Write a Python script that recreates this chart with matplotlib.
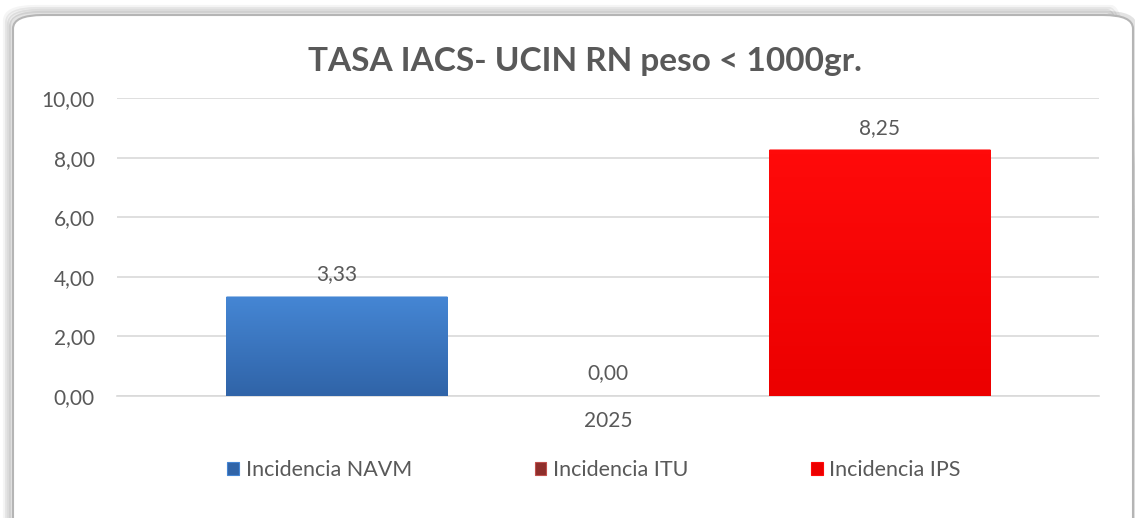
import matplotlib
matplotlib.use("Agg")

import numpy as np
import matplotlib.pyplot as plt
from matplotlib.patches import FancyBboxPatch, Patch
from matplotlib.colors import LinearSegmentedColormap

# data
CATEGORY = "2025"
SERIES = ["Incidencia NAVM", "Incidencia ITU", "Incidencia IPS"]
VALUES = [3.33, 0.00, 8.25]
TITLE = "TASA IACS- UCIN RN peso < 1000gr."
Y_TICKS = [0, 2, 4, 6, 8, 10]

# colours (top, bottom of each bar gradient)
C_BARS = [("#4586D4", "#3064A8"), ("#C0504D", "#8E2E2B"), ("#FF0A0A", "#EC0000")]
C_TEXT = "#595959"
C_GRID = "#D9D9D9"

plt.rcParams["font.family"] = ["Lato", "DejaVu Sans"]

W, H = 1135, 518
fig = plt.figure(figsize=(W / 100, H / 100), dpi=100)
fig.patch.set_facecolor("white")

# rounded chart frame with a soft shadow
for i, a in enumerate([0.04, 0.06, 0.08, 0.11]):
    d = (4 - i) * 2
    fig.patches.append(FancyBboxPatch(
        ((13 - d) / W, -0.05), (1120 + 2 * d) / W, (503 + d) / H + 0.05,
        boxstyle=f"round,pad=0,rounding_size={30 / W}",
        transform=fig.transFigure, facecolor="none",
        edgecolor="black", lw=3, alpha=a, zorder=0))
fig.patches.append(FancyBboxPatch(
    (13 / W, -0.05), 1120 / W, 503 / H + 0.05,
    boxstyle=f"round,pad=0,rounding_size={30 / W}",
    transform=fig.transFigure, facecolor="white",
    edgecolor="#B5B5B5", lw=1.5, zorder=1))

ax = fig.add_axes([117 / W, (H - 396) / H, (1099 - 117) / W, (396 - 98) / H])
ax.set_facecolor("none")
ax.set_zorder(2)

x = np.arange(len(SERIES)) - 1
bar_w = 0.815
bars = ax.bar(x, VALUES, width=bar_w, color=[c[0] for c in C_BARS],
              edgecolor="none", zorder=3)

# vertical gradient fill clipped to each bar
for b, (top, bot) in zip(bars, C_BARS):
    if b.get_height() <= 0:
        continue
    cmap = LinearSegmentedColormap.from_list("g", [bot, top])
    grad = np.linspace(0, 1, 64).reshape(-1, 1)
    x0, w, h = b.get_x(), b.get_width(), b.get_height()
    im = ax.imshow(grad, cmap=cmap, origin="lower", aspect="auto",
                   extent=[x0, x0 + w, 0, h], zorder=3.5)
    im.set_clip_path(b)
    ax.plot([x0, x0 + w], [h, h], color=top, lw=2, alpha=0.6, zorder=4,
            solid_capstyle="butt")

for xi, v in zip(x, VALUES):
    ax.annotate(f"{v:.2f}".replace(".", ","), xy=(xi, v), xytext=(0, 9),
                textcoords="offset points", ha="center", va="bottom",
                fontsize=15, color=C_TEXT, zorder=5)

ax.set_xlim(-1.81, 1.81)
ax.set_ylim(0, 10)
ax.set_yticks(Y_TICKS)
ax.set_yticklabels([f"{t:.2f}".replace(".", ",") for t in Y_TICKS],
                   fontsize=15, color=C_TEXT)
ax.set_xticks([0])
ax.set_xticklabels([CATEGORY], fontsize=15, color=C_TEXT)
ax.tick_params(length=0, pad=16, axis="y")
ax.tick_params(length=0, pad=11, axis="x")
ax.yaxis.grid(True, color=C_GRID, lw=1.2, zorder=0)
ax.set_axisbelow(True)
for s in ["top", "right", "left"]:
    ax.spines[s].set_visible(False)
ax.spines["bottom"].set_color(C_GRID)
ax.spines["bottom"].set_linewidth(1.2)

fig.text(585 / W, (H - 62) / H, TITLE, ha="center", va="center",
         fontsize=24, fontweight="bold", color=C_TEXT)

handles = [Patch(facecolor=c[1], edgecolor=c[0], lw=0.8) for c in C_BARS]
fig.legend(handles, SERIES, loc="center", bbox_to_anchor=(594 / W, (H - 470) / H),
           ncol=3, frameon=False, fontsize=15.5, labelcolor=C_TEXT,
           handlelength=0.55, handleheight=0.55, handletextpad=0.3,
           columnspacing=5.7)

fig.savefig("out.png", dpi=100, facecolor="white")
